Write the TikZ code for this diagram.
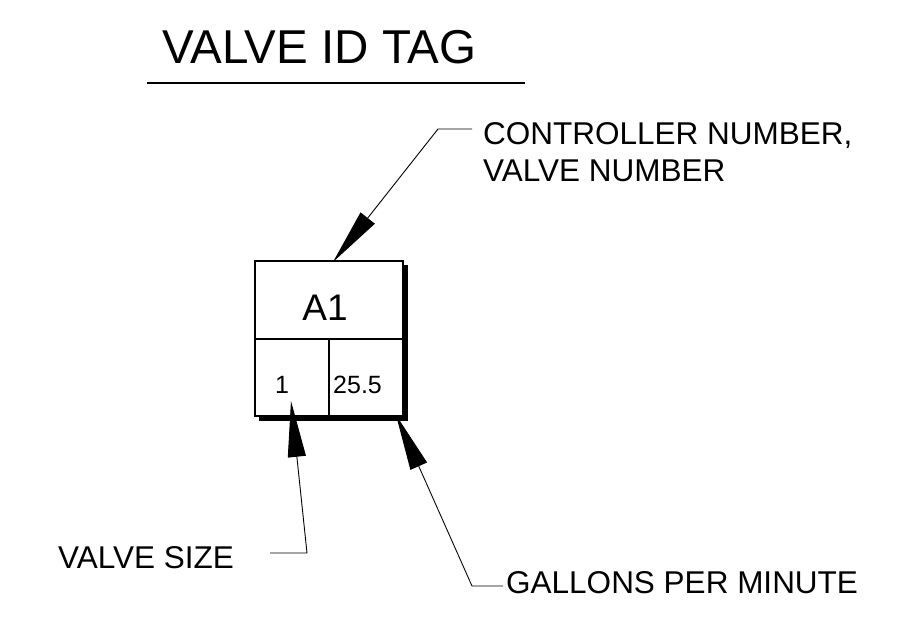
\documentclass[tikz,border=0pt]{standalone}
\usepackage{fontspec}
\setmainfont{Liberation Sans}
\usetikzlibrary{arrows.meta}

\tikzset{
  callout/.style={line width=0.9pt, -{Triangle[length=56pt,width=18pt]}},
  calltext/.style={anchor=base west, inner sep=0pt, font=\fontsize{31.5}{36}\selectfont},
  celltext/.style={anchor=base west, inner sep=0pt, font=\fontsize{25}{30}\selectfont},
}

\begin{document}
\begin{tikzpicture}[x=1pt,y=-1pt]
    \useasboundingbox (0,0) rectangle (898,623);

    % Title
    \node[anchor=base west, inner sep=0pt, font=\fontsize{47.5}{54}\selectfont] (title) at (162,64) {VALVE ID TAG};
    \draw[line width=1.2pt] (147,83) -- (525,83);

    % Tag with shadow
    \fill (259,265) rectangle (408,421);
    \draw[line width=1.2pt, fill=white] (255,261) rectangle (403,416);
    \draw[line width=1.2pt] (255,339) -- (403,339);
    \draw[line width=1.2pt] (329,339) -- (329,416);

    \node[anchor=base, inner sep=0pt, font=\fontsize{37}{42}\selectfont] (ctrlid) at (325,320) {A1};
    \node[celltext] (size) at (275,393) {1};
    \node[celltext] (gpm) at (333,393) {25.5};

    % Labels
    \node[calltext] (ctrl1) at (483,145) {CONTROLLER NUMBER,};
    \node[calltext] (ctrl2) at (483,182) {VALVE NUMBER};
    \node[calltext] (sizelbl) at (58,568) {VALVE SIZE};
    \node[calltext] (gpmlbl) at (506,593) {GALLONS PER MINUTE};

    % Callout points
    \coordinate (ctrlhook) at (472,129);
    \coordinate (ctrlbend) at (438,129);
    \coordinate (tagtop) at (333,262);

    \coordinate (sizehook) at (270,553);
    \coordinate (sizebend) at (307,553);
    \coordinate (sizecell) at (291,401);

    \coordinate (gpmhook) at (503,586);
    \coordinate (gpmbend) at (472,586);
    \coordinate (tagcorner) at (396,415);

    % Callouts
    \draw[callout] (ctrlhook) -- (ctrlbend) -- (tagtop);
    \draw[callout] (sizehook) -- (sizebend) -- (sizecell);
    \draw[callout] (gpmhook) -- (gpmbend) -- (tagcorner);

\end{tikzpicture}
\end{document}
